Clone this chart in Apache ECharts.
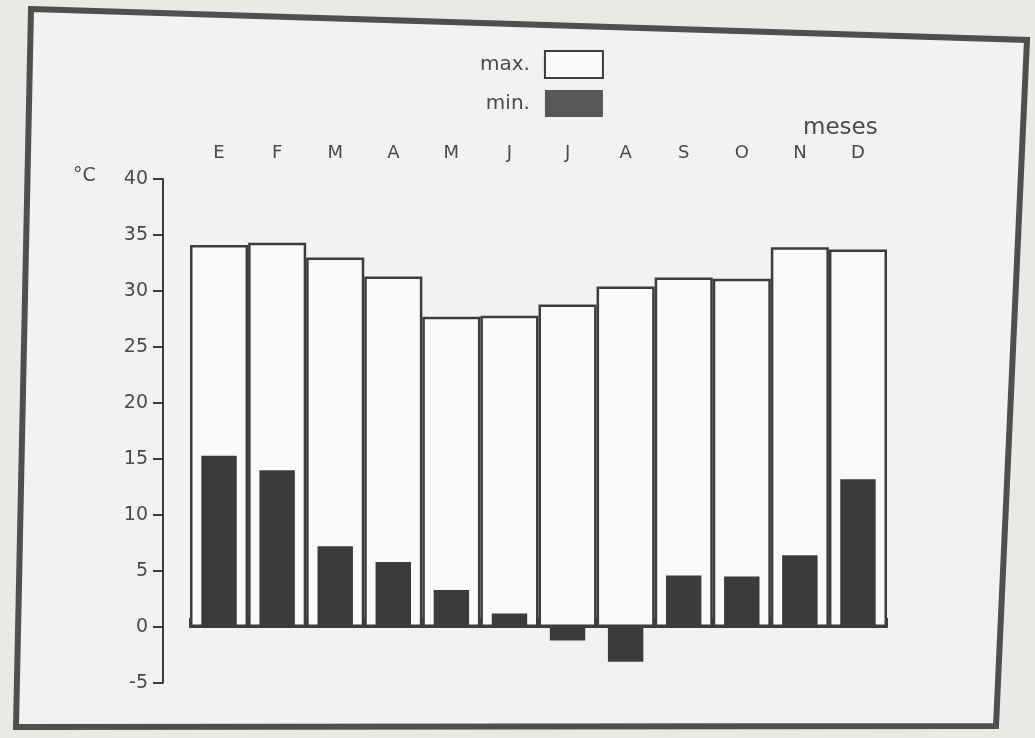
<!DOCTYPE html>
<html>
<head>
<meta charset="utf-8">
<title>Temperaturas max. y min.</title>
<script src="https://cdn.jsdelivr.net/npm/echarts@6/dist/echarts.min.js"></script>
<style>
  html, body { margin: 0; padding: 0; background: #e9e9e6; }
  #chart { width: 1035px; height: 738px; }
</style>
</head>
<body>
<div id="chart"></div>
<script>
// months (Spanish initials) and monthly temperatures in °C
var meses = ['E', 'F', 'M', 'A', 'M', 'J', 'J', 'A', 'S', 'O', 'N', 'D'];
var tempMax = [34.1, 34.3, 33.0, 31.3, 27.7, 27.8, 28.8, 30.4, 31.2, 31.1, 33.9, 33.7];
var tempMin = [15.3, 14.0, 7.2, 5.8, 3.3, 1.2, -1.2, -3.1, 4.6, 4.5, 6.4, 13.2];
var yTicks = { min: -5, max: 40, interval: 5 };

var ink = '#3d3d3d';
var font = 'DejaVu Sans';

var chart = echarts.init(document.getElementById('chart'));
var option = {
    backgroundColor: '#e9e9e6',
    animation: false,
    textStyle: { fontFamily: font, color: '#4a4a4a' },
    // paper frame of the photographed page
    graphic: [{
        type: 'polygon',
        z: -10,
        shape: { points: [[31, 9], [1027, 40], [996, 726], [16, 727]] },
        style: { fill: '#f2f2f0', stroke: '#4f4f4f', lineWidth: 6 }
    }],
    title: [
        { text: 'meses', left: 798, top: 112,
          textStyle: { fontFamily: font, fontSize: 23, fontWeight: 'normal', color: '#4a4a4a' } },
        { text: '°C', left: 68, top: 162,
          textStyle: { fontFamily: font, fontSize: 19, fontWeight: 'normal', color: '#4a4a4a' } }
    ],
    legend: {
        orient: 'vertical',
        left: 475,
        top: 45,
        align: 'right',
        itemWidth: 58,
        itemHeight: 27,
        itemGap: 11,
        icon: 'rect',
        textStyle: { fontFamily: font, fontSize: 20, color: '#4a4a4a', padding: [0, 10, 0, 0] },
        data: ['max.', {
            name: 'min.',
            itemStyle: { color: '#575757' }
        }]
    },
    grid: { left: 190, right: 148, top: 179, bottom: 55, containLabel: false },
    xAxis: [{
        type: 'category',
        position: 'top',
        data: meses,
        boundaryGap: true,
        axisLine: { lineStyle: { color: ink, width: 2 } },
        axisTick: { show: true, length: 9, inside: false, lineStyle: { color: ink, width: 2 } },
        axisLabel: { margin: 17, fontSize: 18, color: '#4a4a4a', fontFamily: font },
        splitLine: { show: false }
    }, {
        type: 'category',
        data: meses,
        show: false
    }],
    yAxis: {
        type: 'value',
        min: yTicks.min,
        max: yTicks.max,
        interval: yTicks.interval,
        offset: 27,
        axisLine: { show: true, lineStyle: { color: ink, width: 2 } },
        axisTick: { show: true, length: 10, lineStyle: { color: ink, width: 2 } },
        axisLabel: { margin: 15, fontSize: 19, color: '#4a4a4a', fontFamily: font },
        splitLine: { show: false }
    },
    series: [{
        name: 'max.',
        type: 'bar',
        xAxisIndex: 0,
        barWidth: '100%',
        data: tempMax,
        itemStyle: { color: '#fafaf8', borderColor: ink, borderWidth: 2.5 }
    }, {
        name: 'min.',
        type: 'bar',
        xAxisIndex: 1,
        barWidth: '61%',
        data: tempMin,
        itemStyle: { color: '#3b3b3b' }
    }]
};
chart.setOption(option);
</script>
</body>
</html>
